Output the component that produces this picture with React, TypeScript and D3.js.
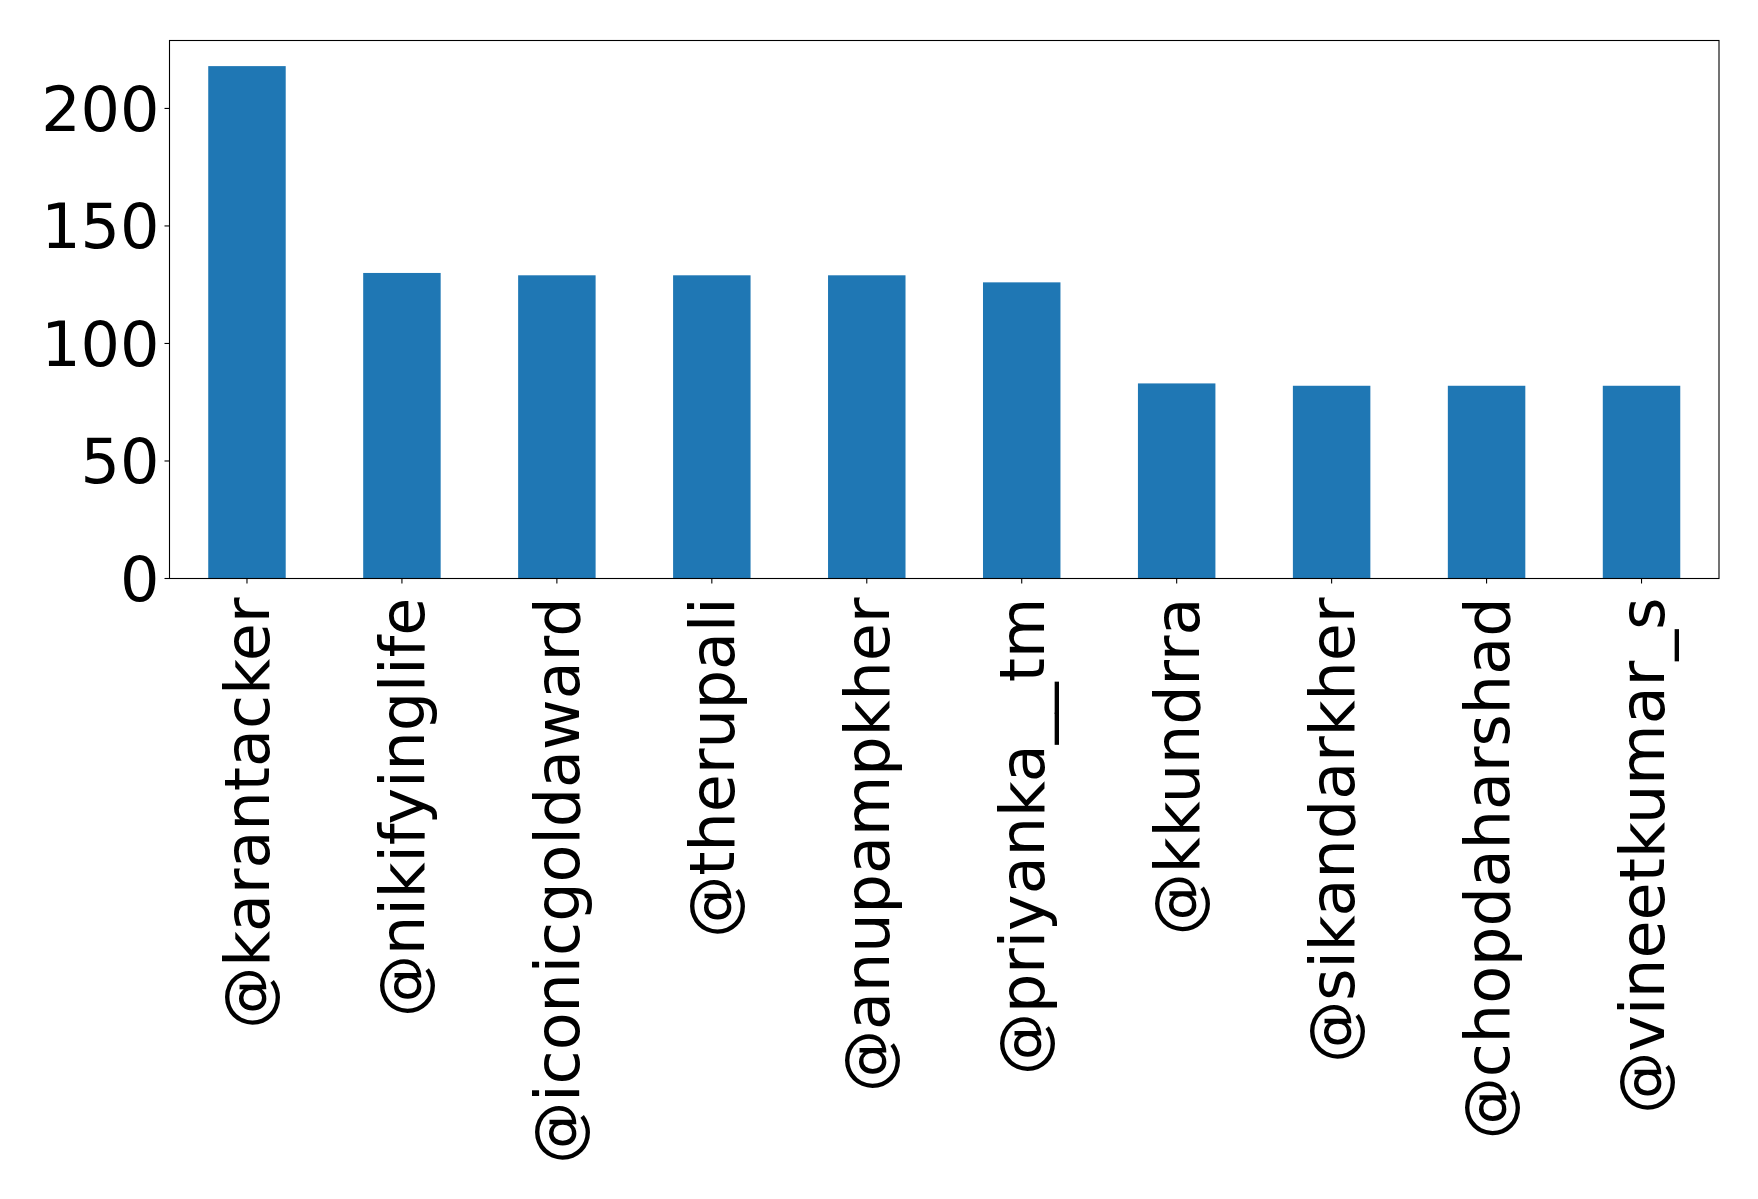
import React from "react";
import * as d3 from "d3";

const categories = [
  "@karantacker",
  "@nikifyinglife",
  "@iconicgoldaward",
  "@therupali",
  "@anupampkher",
  "@priyanka__tm",
  "@kkundrra",
  "@sikandarkher",
  "@chopdaharshad",
  "@vineetkumar_s",
];
const values = [218, 130, 129, 129, 129, 126, 83, 82, 82, 82];
const yTicks = [0, 50, 100, 150, 200];

const W = 1758;
const H = 1199;
const margin = { left: 169.5, right: 1719, top: 40.5, bottom: 578.5 };
const FONT = "'DejaVu Sans', sans-serif";
const FS = 62;

export default function App() {
  const x = d3
    .scaleBand<string>()
    .domain(categories)
    .range([margin.left, margin.right])
    .paddingInner(0.5)
    .paddingOuter(0.25);
  const yMax = (d3.max(values) as number) * 1.05;
  const y = d3.scaleLinear().domain([0, yMax]).range([margin.bottom, margin.top]);

  return (
    <svg
      width={W}
      height={H}
      style={{ position: "absolute", left: 0, top: 0, background: "#fff" }}
      fontFamily={FONT}
    >
      <rect x={0} y={0} width={W} height={H} fill="#fff" />
      {categories.map((c, i) => (
        <rect
          key={c}
          x={x(c)}
          y={y(values[i])}
          width={x.bandwidth()}
          height={y(0) - y(values[i])}
          fill="#1f77b4"
        />
      ))}
      <rect
        x={margin.left}
        y={margin.top}
        width={margin.right - margin.left}
        height={margin.bottom - margin.top}
        fill="none"
        stroke="#000"
        strokeWidth={1.1}
      />
      {yTicks.map((t) => (
        <g key={t}>
          <line
            x1={margin.left - 5}
            x2={margin.left}
            y1={y(t)}
            y2={y(t)}
            stroke="#000"
            strokeWidth={1.1}
          />
          <text
            x={margin.left - 10}
            y={y(t)}
            dy="0.36em"
            textAnchor="end"
            fontSize={FS}
            fill="#000"
          >
            {t}
          </text>
        </g>
      ))}
      {categories.map((c) => {
        const cx = (x(c) as number) + x.bandwidth() / 2;
        return (
          <g key={c}>
            <line
              x1={cx}
              x2={cx}
              y1={margin.bottom}
              y2={margin.bottom + 5}
              stroke="#000"
              strokeWidth={1.1}
            />
            <text
              transform={`translate(${cx},${margin.bottom + 19}) rotate(-90)`}
              dy="0.36em"
              textAnchor="end"
              fontSize={FS}
              fill="#000"
            >
              {c}
            </text>
          </g>
        );
      })}
    </svg>
  );
}
